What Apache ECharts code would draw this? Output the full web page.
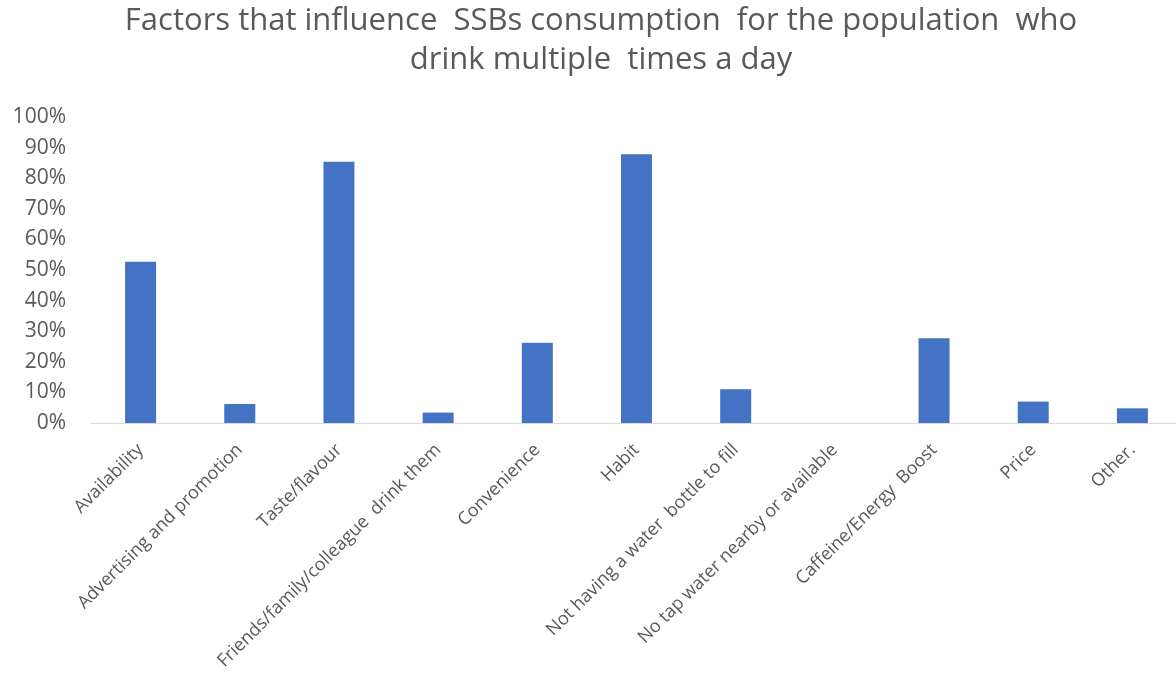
<!DOCTYPE html>
<html><head><meta charset="utf-8">
<script src="https://cdn.jsdelivr.net/npm/echarts@6/dist/echarts.min.js"></script>
<style>html,body{margin:0;padding:0;background:#fff}#c{width:1176px;height:673px}</style>
</head><body><div id="c"></div>
<script>
const titleText = "Factors that influence  SSBs consumption  for the population  who\ndrink multiple  times a day";
const categories = ["Availability","Advertising and promotion","Taste/flavour","Friends/family/colleague  drink them","Convenience","Habit","Not having a water  bottle to fill","No tap water nearby or available","Caffeine/Energy  Boost","Price","Other."];
const values = [0.527, 0.062, 0.854, 0.034, 0.262, 0.878, 0.110, 0, 0.277, 0.070, 0.048];
const yTicks = {min: 0, max: 1, interval: 0.1};

const chart = echarts.init(document.getElementById('c'));
chart.setOption({
  animation: false,
  title: {
    text: titleText, left: 601, textAlign: 'center', top: 2, padding: 0,
    textStyle: {fontFamily: 'Open Sans', fontWeight: 'normal', fontSize: 31, color: '#595959', lineHeight: 39}
  },
  grid: {left: 91, right: -6, top: 117, bottom: 250, containLabel: false, outerBoundsMode: 'none'},
  xAxis: {
    type: 'category', data: categories,
    axisLine: {lineStyle: {color: '#d9d9d9', width: 1}},
    axisTick: {show: false},
    axisLabel: {rotate: 45, interval: 0, fontFamily: 'Open Sans', fontSize: 18, color: '#595959', margin: 24}
  },
  yAxis: {
    type: 'value', min: yTicks.min, max: yTicks.max, interval: yTicks.interval,
    splitLine: {show: false}, axisLine: {show: false}, axisTick: {show: false},
    axisLabel: {formatter: v => Math.round(v*100) + '%', fontFamily: 'Open Sans', fontSize: 21, color: '#595959', margin: 25}
  },
  series: [{type: 'bar', data: values, barWidth: 31, itemStyle: {color: '#4472c4'}}]
});
</script></body></html>
